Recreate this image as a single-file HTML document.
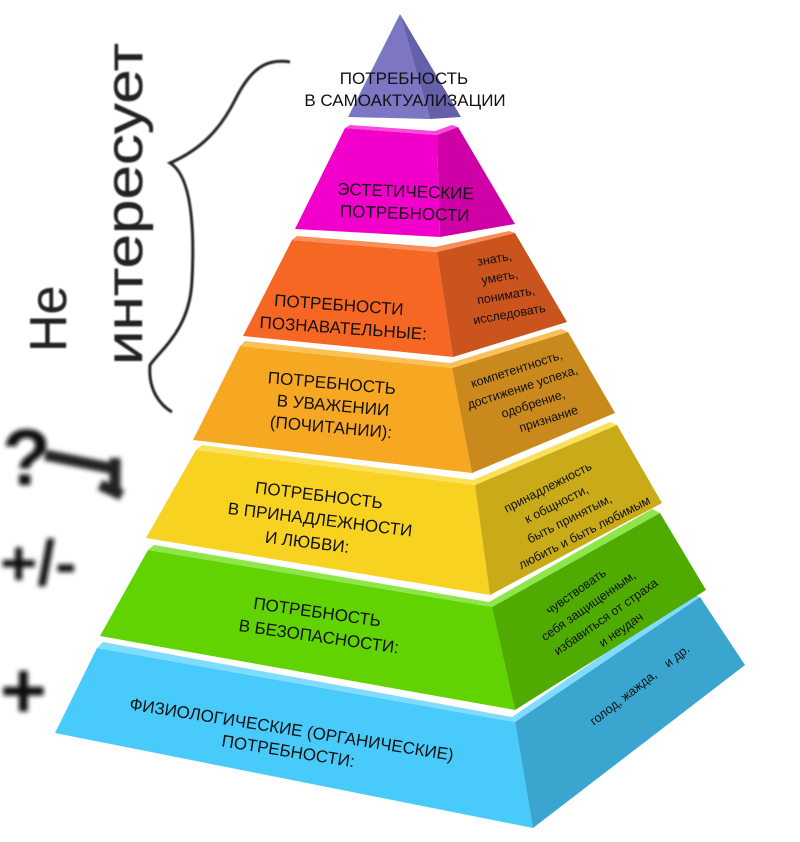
<!DOCTYPE html>
<html><head><meta charset="utf-8">
<style>
html,body{margin:0;padding:0;background:#fff;}
svg{display:block;}
text{font-family:"Liberation Sans",sans-serif;fill:#111;}
.m{font-size:17px;text-anchor:middle;}
.s{font-size:12.5px;text-anchor:middle;}
.h{font-family:"Liberation Sans",sans-serif;fill:#222;}
</style></head><body>
<svg width="800" height="842" viewBox="0 0 800 842" xmlns="http://www.w3.org/2000/svg">
<defs>
<filter id="blur" x="-20%" y="-20%" width="140%" height="140%"><feGaussianBlur stdDeviation="2.5"/></filter>
<filter id="blur1"><feGaussianBlur stdDeviation="0.7"/></filter>
</defs>

<!-- handwriting -->
<g filter="url(#blur1)">
<text class="h" transform="translate(66,352) rotate(-90)" font-size="52" stroke="#222" stroke-width="0.3">Не</text>
<text class="h" transform="translate(142,365) rotate(-90)" font-size="52" stroke="#222" stroke-width="0.3" textLength="322" lengthAdjust="spacingAndGlyphs">интересует</text>
<path d="M290,62 C265,58 250,70 235,100 C220,130 200,150 170,163 C190,175 195,220 192,280 C190,330 160,350 150,365 C148,390 160,405 172,412" fill="none" stroke="#222" stroke-width="3"/>
</g>
<g filter="url(#blur)" fill="#222">
<text x="2" y="485" font-size="80" font-weight="bold">?</text>
<path d="M45,455 C70,460 95,465 120,470 M115,458 L115,495 M100,485 L122,495" stroke="#222" stroke-width="11" fill="none"/>
<text x="0" y="585" font-size="64" font-weight="bold">+/-</text>
<text x="0" y="718" font-size="80" font-weight="bold">+</text>
</g>

<!-- Blue -->
<polygon points="97,648 515,722 533,828 55,733" fill="#48cbfb"/>
<polygon points="515,722 700,597 745,665 533,828" fill="#3aa6cf"/>
<polygon points="97,648 515,722 700,597 692,594 512,717 103,642" fill="#7fdcff"/>
<!-- Green -->
<polygon points="148,550 492,607 515,710 100,636" fill="#60d300"/>
<polygon points="492,607 660,513 706,590 515,710" fill="#4fab00"/>
<polygon points="148,550 492,607 660,513 652,509 489,602 154,545" fill="#8ee64a"/>
<!-- Yellow -->
<polygon points="196,450 475,485 490,595 146,538" fill="#f8d221"/>
<polygon points="475,485 617,425 662,503 490,595" fill="#c9ab1a"/>
<polygon points="196,450 475,485 617,425 610,422 473,480 202,445" fill="#fbe05a"/>
<!-- Light orange -->
<polygon points="240,346 452,368 472,473 193,440" fill="#f7a823"/>
<polygon points="452,368 568,332 615,413 472,473" fill="#c9891c"/>
<polygon points="240,346 452,368 568,332 561,329 450,363 245,341" fill="#fac158"/>
<!-- Orange -->
<polygon points="292,240 437,252 453,357 243,336" fill="#f56723"/>
<polygon points="437,252 515,233 567,322 453,357" fill="#ca531e"/>
<polygon points="292,240 437,252 515,233 509,231 435,247 297,236" fill="#f98e58"/>
<!-- Magenta -->
<polygon points="345,128 437,135 440,237 295,229" fill="#f200cb"/>
<polygon points="437,135 458,127 515,224 440,237" fill="#cf00a6"/>
<polygon points="345,128 437,135 458,127 452,125 435,131 350,125" fill="#f94bdc"/>
<!-- Purple -->
<polygon points="400,14 348,117 430,119" fill="#7d77c3"/>
<polygon points="400,14 430,119 461,117" fill="#6560aa"/>

<!-- main labels -->
<text class="m" font-size="15.5" x="404" y="84">ПОТРЕБНОСТЬ</text>
<text class="m" font-size="15.5" x="405" y="106">В САМОАКТУАЛИЗАЦИИ</text>

<g transform="rotate(2 405 205)"><text class="m" font-size="16" x="405" y="197">ЭСТЕТИЧЕСКИЕ</text><text class="m" font-size="16" x="405" y="219">ПОТРЕБНОСТИ</text></g>

<g transform="rotate(4 345 318)"><text class="m" x="338" y="311">ПОТРЕБНОСТИ</text><text class="m" x="344" y="334">ПОЗНАВАТЕЛЬНЫЕ:</text></g>

<g transform="rotate(5 333 405)"><text class="m" x="330" y="389">ПОТРЕБНОСТЬ</text><text class="m" x="333" y="411">В УВАЖЕНИИ</text><text class="m" x="333" y="433">(ПОЧИТАНИИ):</text></g>

<g transform="rotate(7 318 520)"><text class="m" x="316" y="501">ПОТРЕБНОСТЬ</text><text class="m" x="320" y="525">В ПРИНАДЛЕЖНОСТИ</text><text class="m" x="310" y="549">И ЛЮБВИ:</text></g>

<g transform="rotate(8 318 628)"><text class="m" x="315" y="618">ПОТРЕБНОСТЬ</text><text class="m" x="320" y="642">В БЕЗОПАСНОСТИ:</text></g>

<g transform="rotate(9 290 740)"><text class="m" x="290" y="735">ФИЗИОЛОГИЧЕСКИЕ (ОРГАНИЧЕСКИЕ)</text><text class="m" x="290" y="757">ПОТРЕБНОСТИ:</text></g>

<!-- side labels -->
<g transform="rotate(-10 502 290)"><text class="s" x="500" y="262">знать,</text><text class="s" x="502" y="281">уметь,</text><text class="s" x="505" y="300">понимать,</text><text class="s" x="505" y="319">исследовать</text></g>

<g transform="rotate(-18 525 395)"><text class="s" x="525" y="372">компетентность,</text><text class="s" x="525" y="391">достижение успеха,</text><text class="s" x="530" y="410">одобрение,</text><text class="s" x="540" y="429">признание</text></g>

<g transform="rotate(-27 565 510)"><text class="s" x="560" y="486">принадлежность</text><text class="s" x="560" y="505">к общности,</text><text class="s" x="565" y="524">быть принятым,</text><text class="s" x="572" y="543">любить и быть любимым</text></g>

<g transform="rotate(-35 595 610)"><text class="s" x="590" y="588">чувствовать</text><text class="s" x="592" y="607">себя защищенным,</text><text class="s" x="600" y="626">избавиться от страха</text><text class="s" x="605" y="645">и неудач</text></g>

<g transform="rotate(-38 640 690)"><text class="s" x="622" y="690">голод, жажда,</text><text class="s" x="690" y="690">и др.</text></g>
</svg>
</body></html>
